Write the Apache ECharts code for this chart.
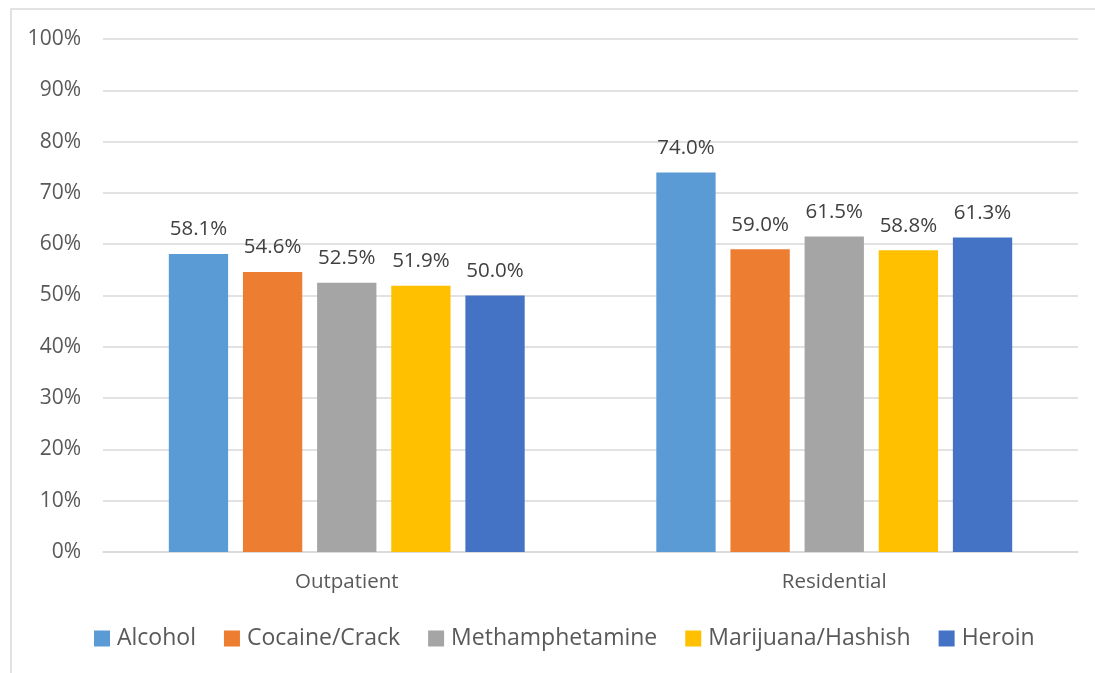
<!DOCTYPE html>
<html><head><meta charset="utf-8">
<script src="https://cdn.jsdelivr.net/npm/echarts@6/dist/echarts.min.js"></script>
<style>html,body{margin:0;padding:0;background:#fff}#c{width:1095px;height:673px}</style>
</head><body><div id="c"></div>
<script>
const categories = ['Outpatient', 'Residential'];
const seriesNames = ['Alcohol', 'Cocaine/Crack', 'Methamphetamine', 'Marijuana/Hashish', 'Heroin'];
const alcohol = [58.1, 74.0];
const cocaine = [54.6, 59.0];
const meth = [52.5, 61.5];
const marijuana = [51.9, 58.8];
const heroin = [50.0, 61.3];
const colors = ['#5B9BD5', '#ED7D31', '#A5A5A5', '#FFC000', '#4472C4'];
const values = [alcohol, cocaine, meth, marijuana, heroin];
const font = "'Open Sans', 'Liberation Sans', sans-serif";

const chart = echarts.init(document.getElementById('c'), null, {renderer: 'canvas'});
chart.setOption({
  animation: false,
  color: colors,
  graphic: [{type: 'rect', shape: {x: 11, y: 9, width: 1200, height: 800}, style: {fill: 'none', stroke: '#d9d9d9', lineWidth: 1.5}, silent: true}],
  grid: {left: 103, right: 17, top: 39, bottom: 121, containLabel: false},
  legend: {
    bottom: 18, left: 89, itemWidth: 16, itemHeight: 16, itemGap: 28, icon: 'rect',
    textStyle: {fontSize: 23, color: '#595959', fontFamily: font, padding: [0, 0, 0, 2]}
  },
  xAxis: {
    type: 'category', data: categories,
    axisLine: {lineStyle: {color: '#d9d9d9', width: 1.5}},
    axisTick: {show: false},
    axisLabel: {fontSize: 20.5, color: '#595959', fontFamily: font, margin: 20}
  },
  yAxis: {
    type: 'value', min: 0, max: 100, interval: 10,
    axisLine: {show: false}, axisTick: {show: false},
    splitLine: {lineStyle: {color: '#d9d9d9', width: 1.5}},
    axisLabel: {fontSize: 21, color: '#595959', fontFamily: font, margin: 22, formatter: v => v + '%'}
  },
  series: seriesNames.map((n, i) => ({
    name: n, type: 'bar', data: values[i],
    barGap: '25%', barCategoryGap: '27%',
    label: {show: true, position: 'top', distance: 14, fontSize: 20.5, color: '#404040', fontFamily: font,
      formatter: p => p.value.toFixed(1) + '%'}
  }))
});
</script></body></html>
